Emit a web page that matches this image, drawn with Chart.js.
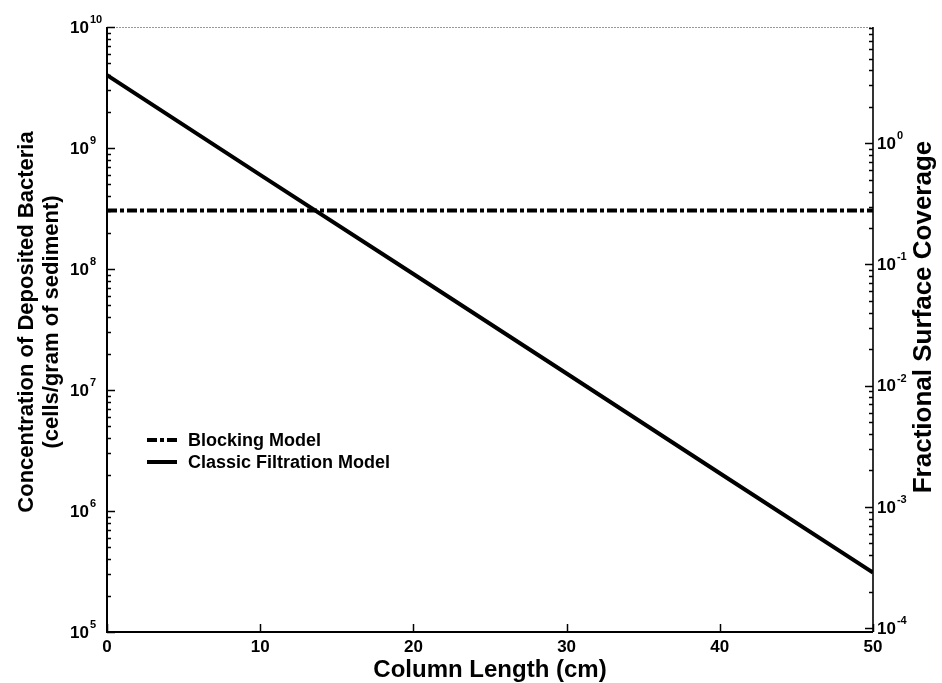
<!DOCTYPE html>
<html>
<head>
<meta charset="utf-8">
<script src="https://cdn.jsdelivr.net/npm/chart.js@4.4.1/dist/chart.umd.min.js"></script>
<style>
  html, body { margin: 0; padding: 0; background: #fff; }
  #wrap { width: 942px; height: 683px; }
</style>
</head>
<body>
<div id="wrap"><canvas id="chart" width="942" height="683"></canvas></div>
<script>
// values
const xTicks = [0, 10, 20, 30, 40, 50];
const leftExponents = [5, 6, 7, 8, 9, 10];
const rightExponents = [-4, -3, -2, -1, 0];

const blockingX = [0, 50];
const blockingY = [3.05e8, 3.05e8];

const classicX = [0, 10, 20, 30, 40, 50];
const classicY = [4.0e9, 6.0e8, 9.1e7, 1.37e7, 2.05e6, 3.1e5];

const seriesLabels = ['Blocking Model', 'Classic Filtration Model'];

const FONT = "'Liberation Sans', Arial, Helvetica, sans-serif";

const toPoints = (xs, ys) => xs.map((x, i) => ({ x: x, y: ys[i] }));

// frame, inward ticks, labels, titles and legend
const decorations = {
    id: 'decorations',
    afterDatasetsDraw(chart) {
        const ctx = chart.ctx;
        const area = chart.chartArea;
        const xs = chart.scales.x, yl = chart.scales.y, yr = chart.scales.y2;
        ctx.save();

        // frame
        ctx.strokeStyle = '#999';
        ctx.lineWidth = 1;
        ctx.setLineDash([2, 1]);
        ctx.beginPath(); ctx.moveTo(area.left, area.top + 0.5); ctx.lineTo(area.right, area.top + 0.5); ctx.stroke();
        ctx.setLineDash([]);
        ctx.strokeStyle = '#000';
        ctx.lineWidth = 2;
        ctx.beginPath();
        ctx.moveTo(area.left, area.top); ctx.lineTo(area.left, area.bottom); ctx.lineTo(area.right, area.bottom);
        ctx.stroke();
        ctx.lineWidth = 1.6;
        ctx.beginPath(); ctx.moveTo(area.right, area.top); ctx.lineTo(area.right, area.bottom); ctx.stroke();

        // log ticks, pointing into the plot
        const logTicks = (scale, exps, side) => {
            const lo = scale.min, hi = scale.max;
            const first = exps[0] - 1, last = exps[exps.length - 1] + 1;
            ctx.lineWidth = 1.5;
            for (let k = first; k <= last; k++) {
                for (let m = 1; m <= 9; m++) {
                    const v = m * Math.pow(10, k);
                    if (v < lo || v > hi) continue;
                    const py = Math.round(scale.getPixelForValue(v)) + 0.5;
                    const len = m === 1 ? 8 : 4;
                    ctx.beginPath();
                    if (side === 'left') { ctx.moveTo(area.left, py); ctx.lineTo(area.left + len, py); }
                    else { ctx.moveTo(area.right, py); ctx.lineTo(area.right - len, py); }
                    ctx.stroke();
                }
            }
        };
        logTicks(yl, leftExponents, 'left');
        logTicks(yr, rightExponents, 'right');

        xTicks.forEach(v => {
            const px = Math.round(xs.getPixelForValue(v)) + 0.5;
            ctx.beginPath(); ctx.moveTo(px, area.bottom); ctx.lineTo(px, area.bottom - 8); ctx.stroke();
        });

        // tick labels
        ctx.fillStyle = '#000';
        const powerLabel = (x, y, e) => {
            ctx.font = 'bold 17px ' + FONT;
            ctx.textAlign = 'left';
            ctx.textBaseline = 'middle';
            ctx.fillText('10', x, y + 1);
            const w = ctx.measureText('10').width;
            ctx.font = 'bold 11px ' + FONT;
            ctx.textBaseline = 'alphabetic';
            ctx.fillText(String(e), x + w + 1, y - 4);
        };
        leftExponents.forEach(e => powerLabel(70, yl.getPixelForValue(Math.pow(10, e)), e));
        rightExponents.forEach(e => powerLabel(877, yr.getPixelForValue(Math.pow(10, e)), e));

        ctx.font = 'bold 17px ' + FONT;
        ctx.textAlign = 'center';
        ctx.textBaseline = 'middle';
        xTicks.forEach(v => ctx.fillText(String(v), xs.getPixelForValue(v), 647));

        // axis titles
        ctx.font = 'bold 24px ' + FONT;
        ctx.fillText('Column Length (cm)', (area.left + area.right) / 2, 670);

        ctx.font = 'bold 22px ' + FONT;
        ctx.save();
        ctx.translate(27, 322);
        ctx.rotate(-Math.PI / 2);
        ctx.fillText('Concentration of Deposited Bacteria', 0, 0);
        ctx.restore();
        ctx.save();
        ctx.translate(52, 322);
        ctx.rotate(-Math.PI / 2);
        ctx.fillText('(cells/gram of sediment)', 0, 0);
        ctx.restore();
        ctx.font = 'bold 26px ' + FONT;
        ctx.save();
        ctx.translate(924, 317);
        ctx.rotate(-Math.PI / 2);
        ctx.fillText('Fractional Surface Coverage', 0, 0);
        ctx.restore();

        // legend
        const legendY = [440, 462];
        chart.data.datasets.forEach((ds, i) => {
            const ly = legendY[i];
            ctx.strokeStyle = '#000';
            ctx.lineWidth = ds.borderWidth;
            ctx.setLineDash(ds.borderDash || []);
            ctx.beginPath(); ctx.moveTo(147, ly); ctx.lineTo(177, ly); ctx.stroke();
            ctx.setLineDash([]);
            ctx.font = 'bold 18px ' + FONT;
            ctx.textAlign = 'left';
            ctx.textBaseline = 'middle';
            ctx.fillText(ds.label, 188, ly + 1);
        });

        ctx.restore();
    }
};

const chart = new Chart(document.getElementById('chart'), {
    type: 'line',
    data: {
        datasets: [
            {
                label: seriesLabels[0],
                data: toPoints(blockingX, blockingY),
                borderColor: '#000',
                borderWidth: 4,
                borderDash: [10, 3, 4, 3],
                pointRadius: 0,
                yAxisID: 'y'
            },
            {
                label: seriesLabels[1],
                data: toPoints(classicX, classicY),
                borderColor: '#000',
                borderWidth: 4,
                pointRadius: 0,
                yAxisID: 'y'
            }
        ]
    },
    options: {
        responsive: false,
        animation: false,
        devicePixelRatio: 1,
        layout: { padding: { top: 27, left: 0, right: 0, bottom: 0 } },
        plugins: { legend: { display: false }, tooltip: { enabled: false } },
        scales: {
            x: {
                type: 'linear', min: 0, max: 50,
                ticks: { display: false },
                grid: { display: false },
                border: { display: false },
                afterFit: s => { s.height = 51; }
            },
            y: {
                type: 'logarithmic', position: 'left', min: 1e5, max: 1e10,
                ticks: { display: false },
                grid: { display: false },
                border: { display: false },
                afterFit: s => { s.width = 107; }
            },
            y2: {
                type: 'logarithmic', position: 'right', min: 9.3e-5, max: 9.1,
                ticks: { display: false },
                grid: { display: false },
                border: { display: false },
                afterFit: s => { s.width = 69; }
            }
        }
    },
    plugins: [decorations]
});
</script>
</body>
</html>
